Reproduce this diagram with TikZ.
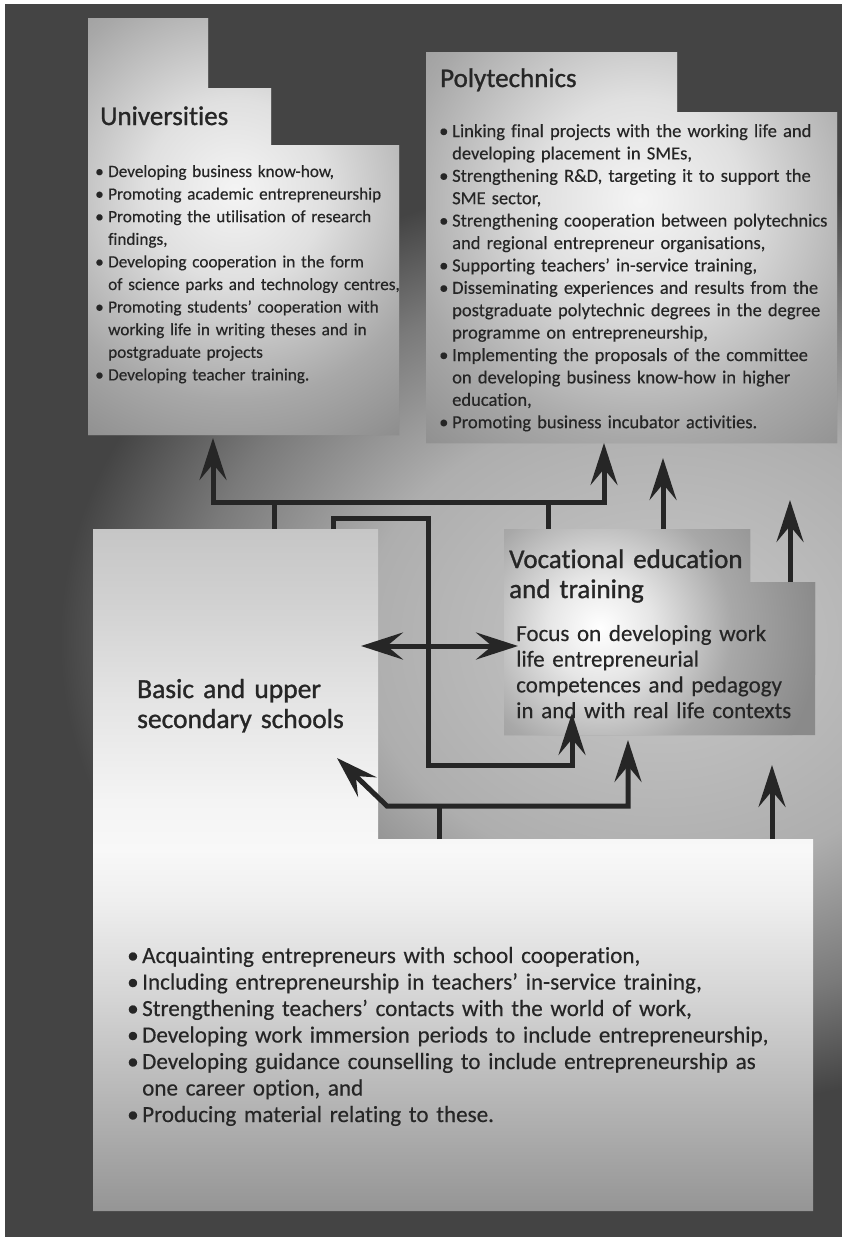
\documentclass[tikz,border=0pt]{standalone}
\usepackage{fontspec}
\setmainfont[Ligatures={NoCommon}, FakeBold=0.35]{Carlito}
\newfontfamily\ttlfont[Ligatures={NoCommon}, FakeBold=1.1]{Carlito}
\usetikzlibrary{arrows.meta}
\definecolor{bgdark}{HTML}{444444}
\definecolor{bgA}{HTML}{C8C8C8}
\definecolor{bgB}{HTML}{AEAEAE}
\definecolor{bgC}{HTML}{7A7A7A}
\definecolor{bxA}{HTML}{F4F4F4}
\definecolor{bxB}{HTML}{E0E0E0}
\definecolor{bxC}{HTML}{A8A8A8}
\definecolor{bxD}{HTML}{8C8C8C}
\definecolor{vcA}{HTML}{FFFFFF}
\definecolor{vcB}{HTML}{E6E6E6}
\definecolor{vcC}{HTML}{A8A8A8}
\definecolor{vcD}{HTML}{8A8A8A}
\definecolor{bs0}{HTML}{959595}
\definecolor{bs1}{HTML}{B5B5B5}
\definecolor{bs2}{HTML}{D4D4D4}
\definecolor{bs3}{HTML}{EFEFEF}
\definecolor{bs4}{HTML}{F8F8F8}
\definecolor{bs5}{HTML}{F4F4F4}
\definecolor{bs6}{HTML}{E4E4E4}
\definecolor{bs7}{HTML}{D0D0D0}
\definecolor{bs8}{HTML}{C6C6C6}
\definecolor{txt}{HTML}{262626}
\definecolor{arrowc}{HTML}{262626}
\pgfdeclareradialshading{bgsh}{\pgfpoint{0bp}{0bp}}{color(0bp)=(bgA); color(12.5bp)=(bgB); color(19.5bp)=(bgC); color(25bp)=(bgdark); color(50bp)=(bgdark)}
\pgfdeclareradialshading{boxsh}{\pgfpoint{0bp}{0bp}}{color(0bp)=(bxA); color(7.5bp)=(bxB); color(17.5bp)=(bxC); color(25bp)=(bxD); color(50bp)=(bxD)}
\pgfdeclareradialshading{vocsh}{\pgfpoint{0bp}{0bp}}{color(0bp)=(vcA); color(6bp)=(vcB); color(15bp)=(vcC); color(25bp)=(vcD); color(50bp)=(vcD)}
\pgfdeclareverticalshading{basicsh}{100bp}{color(0bp)=(bs0); color(25bp)=(bs0); color(33bp)=(bs1); color(40.5bp)=(bs2); color(47.8bp)=(bs3); color(51.5bp)=(bs4); color(55bp)=(bs5); color(62.5bp)=(bs6); color(70bp)=(bs7); color(75bp)=(bs8); color(100bp)=(bs8)}
\newcommand{\bitem}{\makebox[13pt][l]{\textbullet}}
\newcommand{\bcont}{\hspace*{13pt}}
\newcommand{\bitemL}{\makebox[15pt][l]{\textbullet}}
\newcommand{\bcontL}{\hspace*{15pt}}
\tikzset{
  conn/.style={line width=5pt, draw=arrowc},
  arr/.style={conn, -{Stealth[length=42pt,width=27pt,inset=16pt]}},
  dblarr/.style={conn, {Stealth[length=42pt,width=27pt,inset=16pt]}-{Stealth[length=42pt,width=27pt,inset=16pt]}},
  ttl/.style={anchor=base west, inner sep=0pt, text=txt, align=left, text width=340pt, font=\ttlfont\fontsize{27}{30}\selectfont},
  body/.style={anchor=base west, inner sep=0pt, text=txt, align=left, text width=420pt}
}
\begin{document}
\begin{tikzpicture}[x=1pt,y=-1pt]
\useasboundingbox (0,0) rectangle (842,1237);
\fill[white] (0,0) rectangle (842,1237);
\fill[bgdark] (5,4) rectangle (842,1237);
\begin{scope}
  \clip (5,4) rectangle (842,1237);
  \shade[shading=bgsh] (660,640) ellipse [x radius=600, y radius=470];
\end{scope}
% Universities box
\fill[bxD] (88,18) -- (208,18) -- (208,88) -- (271,88) -- (271,145) -- (399,145) -- (399,435) -- (88,435) -- cycle;
\begin{scope}
  \clip (88,18) -- (208,18) -- (208,88) -- (271,88) -- (271,145) -- (399,145) -- (399,435) -- (88,435) -- cycle;
  \shade[shading=boxsh] (235,190) circle (300);
\end{scope}
% Polytechnics box
\fill[bxD] (426,52) -- (677,52) -- (677,112) -- (837,112) -- (837,443) -- (426,443) -- cycle;
\begin{scope}
  \clip (426,52) -- (677,52) -- (677,112) -- (837,112) -- (837,443) -- (426,443) -- cycle;
  \shade[shading=boxsh] (640,200) circle (340);
\end{scope}
% Basic box
\shade[shading=basicsh] (93,529) -- (378,529) -- (378,839) -- (813,839) -- (813,1211) -- (93,1211) -- cycle;
% Vocational box
\fill[vcD] (504,529) -- (750,529) -- (750,582) -- (815,582) -- (815,735) -- (504,735) -- cycle;
\begin{scope}
  \clip (504,529) -- (750,529) -- (750,582) -- (815,582) -- (815,735) -- (504,735) -- cycle;
  \shade[shading=vocsh] (600,628) circle (220);
\end{scope}

% Texts
\node[ttl] (univT) at (100,125) {Universities};
\node[body, font=\fontsize{17.2}{22.6}\selectfont] (univB) at (95,177) {%
\bitem Developing business know-how,\\
\bitem Promoting academic entrepreneurship\\
\bitem Promoting the utilisation of research\\
\bcont findings,\\
\bitem Developing cooperation in the form\\
\bcont of science parks and technology centres,\\
\bitem Promoting students' cooperation with\\
\bcont working life in writing theses and in\\
\bcont postgraduate projects\\
\bitem Developing teacher training.};

\node[ttl] (polyT) at (440,87) {Polytechnics};
\node[body, font=\fontsize{18.5}{22.4}\selectfont] (polyB) at (439,137) {%
\bitem Linking final projects with the working life and\\
\bcont developing placement in SMEs,\\
\bitem Strengthening R\&D, targeting it to support the\\
\bcont SME sector,\\
\bitem Strengthening cooperation between polytechnics\\
\bcont and regional entrepreneur organisations,\\
\bitem Supporting teachers' in-service training,\\
\bitem Disseminating experiences and results from the\\
\bcont postgraduate polytechnic degrees in the degree\\
\bcont programme on entrepreneurship,\\
\bitem Implementing the proposals of the committee\\
\bcont on developing business know-how in higher\\
\bcont education,\\
\bitem Promoting business incubator activities.};

\node[ttl] (vocT) at (509,568) {Vocational education\\and training};
\node[body, font=\fontsize{23}{25.7}\selectfont] (vocB) at (516,641) {%
Focus on developing work\\
life entrepreneurial\\
competences and pedagogy\\
in and with real life contexts};

\node[ttl, font=\ttlfont\fontsize{27.5}{30}\selectfont] (basicT) at (137,698) {Basic and upper\\secondary schools};
\node[body, text width=700pt, font=\fontsize{23.1}{26.5}\selectfont] (basicB) at (127,963) {%
\bitemL Acquainting entrepreneurs with school cooperation,\\
\bitemL Including entrepreneurship in teachers' in-service training,\\
\bitemL Strengthening teachers' contacts with the world of work,\\
\bitemL Developing work immersion periods to include entrepreneurship,\\
\bitemL Developing guidance counselling to include entrepreneurship as\\
\bcontL one career option, and\\
\bitemL Producing material relating to these.};

% Connector coordinates
\coordinate (uTip) at (213,438);
\coordinate (uJ) at (213,502);
\coordinate (pJ) at (604,502);
\coordinate (pTip) at (604,443);
\coordinate (b1) at (274,502);
\coordinate (b1e) at (274,529);
\coordinate (v1) at (548,502);
\coordinate (v1e) at (548,529);
\coordinate (f0) at (333,529);
\coordinate (f1) at (333,518);
\coordinate (f2) at (428,518);
\coordinate (f3) at (428,765);
\coordinate (f4) at (572,765);
\coordinate (f5) at (572,713);
\coordinate (dL) at (361,646);
\coordinate (dR) at (518,646);
\coordinate (a1s) at (663,529);
\coordinate (a1t) at (663,458);
\coordinate (a2s) at (790,582);
\coordinate (a2t) at (790,500);
\coordinate (l0) at (439,839);
\coordinate (l1) at (439,806);
\coordinate (lL) at (387,806);
\coordinate (lR) at (628,806);
\coordinate (lRt) at (628,740);
\coordinate (lLt) at (337,758);
\coordinate (a3s) at (772,839);
\coordinate (a3t) at (772,765);

% Connectors
\draw[dblarr] (uTip) -- (uJ) -- (pJ) -- (pTip);
\draw[conn] (b1) -- (b1e);
\draw[conn] (v1) -- (v1e);
\draw[arr] (f0) -- (f1) -- (f2) -- (f3) -- (f4) -- (f5);
\draw[dblarr] (dL) -- (dR);
\draw[arr] (a1s) -- (a1t);
\draw[arr] (a2s) -- (a2t);
\draw[conn] (l0) -- (l1);
\draw[dblarr] (lLt) -- (lL) -- (lR) -- (lRt);
\draw[arr] (a3s) -- (a3t);
\end{tikzpicture}
\end{document}
